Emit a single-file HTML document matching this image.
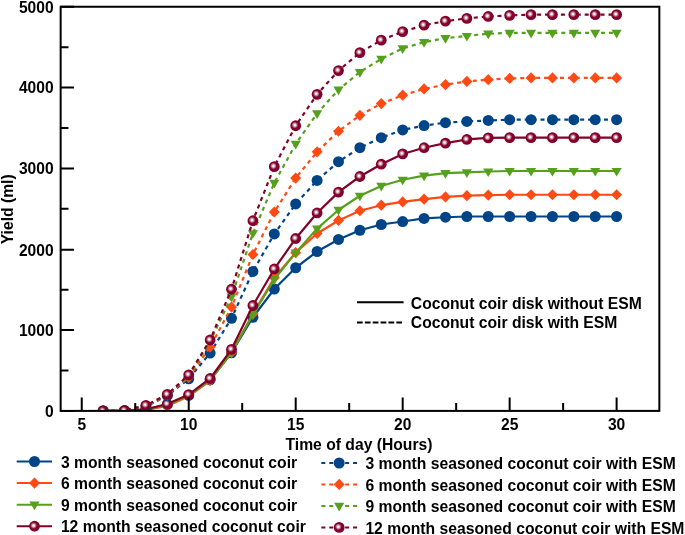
<!DOCTYPE html>
<html lang="en">
<head>
<meta charset="utf-8">
<title>Yield vs time of day</title>
<style>
html,body{margin:0;padding:0;background:#fff;}
body{width:685px;height:535px;overflow:hidden;}
svg{display:block;}
.tk{font-size:15.6px;}
text{font-family:"Liberation Sans",Arial,Helvetica,sans-serif;font-weight:bold;font-size:15.7px;fill:#000;}
</style>
</head>
<body>
<svg width="685" height="535" viewBox="0 0 685 535">
<defs>
<radialGradient id="sp" cx="0.42" cy="0.44" r="0.55">
<stop offset="0.1" stop-color="#ffffff"/>
<stop offset="0.56" stop-color="#82002a"/>
</radialGradient>
<clipPath id="plot"><rect x="60.65" y="6.75" width="598.70" height="404.15"/></clipPath>
</defs>
<rect width="685" height="535" fill="#fff"/>

<g clip-path="url(#plot)">
<path d="M103.14 410.90L124.54 410.90L145.94 409.69L167.33 404.60L188.72 395.38L210.12 379.78L231.51 352.78L252.91 317.30L274.31 289.01L295.70 267.75L317.10 251.50L338.49 239.46L359.88 230.24L381.28 224.51L402.68 221.52L424.07 218.44L445.46 217.23L466.86 216.50L488.25 216.50L509.65 216.50L531.05 216.50L552.44 216.50L573.84 216.50L595.23 216.50L616.62 216.50" fill="none" stroke="#004488" stroke-width="2.2" stroke-linejoin="round"/>
<g><circle cx="103.14" cy="410.90" r="5.5" fill="#004488"/><circle cx="124.54" cy="410.90" r="5.5" fill="#004488"/><circle cx="145.94" cy="409.69" r="5.5" fill="#004488"/><circle cx="167.33" cy="404.60" r="5.5" fill="#004488"/><circle cx="188.72" cy="395.38" r="5.5" fill="#004488"/><circle cx="210.12" cy="379.78" r="5.5" fill="#004488"/><circle cx="231.51" cy="352.78" r="5.5" fill="#004488"/><circle cx="252.91" cy="317.30" r="5.5" fill="#004488"/><circle cx="274.31" cy="289.01" r="5.5" fill="#004488"/><circle cx="295.70" cy="267.75" r="5.5" fill="#004488"/><circle cx="317.10" cy="251.50" r="5.5" fill="#004488"/><circle cx="338.49" cy="239.46" r="5.5" fill="#004488"/><circle cx="359.88" cy="230.24" r="5.5" fill="#004488"/><circle cx="381.28" cy="224.51" r="5.5" fill="#004488"/><circle cx="402.68" cy="221.52" r="5.5" fill="#004488"/><circle cx="424.07" cy="218.44" r="5.5" fill="#004488"/><circle cx="445.46" cy="217.23" r="5.5" fill="#004488"/><circle cx="466.86" cy="216.50" r="5.5" fill="#004488"/><circle cx="488.25" cy="216.50" r="5.5" fill="#004488"/><circle cx="509.65" cy="216.50" r="5.5" fill="#004488"/><circle cx="531.05" cy="216.50" r="5.5" fill="#004488"/><circle cx="552.44" cy="216.50" r="5.5" fill="#004488"/><circle cx="573.84" cy="216.50" r="5.5" fill="#004488"/><circle cx="595.23" cy="216.50" r="5.5" fill="#004488"/><circle cx="616.62" cy="216.50" r="5.5" fill="#004488"/></g>
<path d="M103.14 410.90L124.54 410.90L145.94 409.93L167.33 405.89L188.72 396.35L210.12 380.59L231.51 352.30L252.91 313.98L274.31 277.77L295.70 252.72L317.10 233.48L338.49 220.46L359.88 210.76L381.28 205.19L402.68 201.95L424.07 199.21L445.46 196.94L466.86 195.65L488.25 195.08L509.65 194.76L531.05 194.76L552.44 194.76L573.84 194.76L595.23 194.76L616.62 194.76" fill="none" stroke="#ff4a14" stroke-width="2.2" stroke-linejoin="round"/>
<g><path d="M103.14 405.30l5.5 5.6l-5.5 5.6l-5.5 -5.6z" fill="#ff4a14"/><path d="M124.54 405.30l5.5 5.6l-5.5 5.6l-5.5 -5.6z" fill="#ff4a14"/><path d="M145.94 404.33l5.5 5.6l-5.5 5.6l-5.5 -5.6z" fill="#ff4a14"/><path d="M167.33 400.29l5.5 5.6l-5.5 5.6l-5.5 -5.6z" fill="#ff4a14"/><path d="M188.72 390.75l5.5 5.6l-5.5 5.6l-5.5 -5.6z" fill="#ff4a14"/><path d="M210.12 374.99l5.5 5.6l-5.5 5.6l-5.5 -5.6z" fill="#ff4a14"/><path d="M231.51 346.70l5.5 5.6l-5.5 5.6l-5.5 -5.6z" fill="#ff4a14"/><path d="M252.91 308.38l5.5 5.6l-5.5 5.6l-5.5 -5.6z" fill="#ff4a14"/><path d="M274.31 272.17l5.5 5.6l-5.5 5.6l-5.5 -5.6z" fill="#ff4a14"/><path d="M295.70 247.12l5.5 5.6l-5.5 5.6l-5.5 -5.6z" fill="#ff4a14"/><path d="M317.10 227.88l5.5 5.6l-5.5 5.6l-5.5 -5.6z" fill="#ff4a14"/><path d="M338.49 214.86l5.5 5.6l-5.5 5.6l-5.5 -5.6z" fill="#ff4a14"/><path d="M359.88 205.16l5.5 5.6l-5.5 5.6l-5.5 -5.6z" fill="#ff4a14"/><path d="M381.28 199.59l5.5 5.6l-5.5 5.6l-5.5 -5.6z" fill="#ff4a14"/><path d="M402.68 196.35l5.5 5.6l-5.5 5.6l-5.5 -5.6z" fill="#ff4a14"/><path d="M424.07 193.61l5.5 5.6l-5.5 5.6l-5.5 -5.6z" fill="#ff4a14"/><path d="M445.46 191.34l5.5 5.6l-5.5 5.6l-5.5 -5.6z" fill="#ff4a14"/><path d="M466.86 190.05l5.5 5.6l-5.5 5.6l-5.5 -5.6z" fill="#ff4a14"/><path d="M488.25 189.48l5.5 5.6l-5.5 5.6l-5.5 -5.6z" fill="#ff4a14"/><path d="M509.65 189.16l5.5 5.6l-5.5 5.6l-5.5 -5.6z" fill="#ff4a14"/><path d="M531.05 189.16l5.5 5.6l-5.5 5.6l-5.5 -5.6z" fill="#ff4a14"/><path d="M552.44 189.16l5.5 5.6l-5.5 5.6l-5.5 -5.6z" fill="#ff4a14"/><path d="M573.84 189.16l5.5 5.6l-5.5 5.6l-5.5 -5.6z" fill="#ff4a14"/><path d="M595.23 189.16l5.5 5.6l-5.5 5.6l-5.5 -5.6z" fill="#ff4a14"/><path d="M616.62 189.16l5.5 5.6l-5.5 5.6l-5.5 -5.6z" fill="#ff4a14"/></g>
<path d="M103.14 410.90L124.54 410.90L145.94 409.69L167.33 404.84L188.72 395.54L210.12 379.78L231.51 352.78L252.91 314.55L274.31 279.31L295.70 252.72L317.10 228.63L338.49 209.96L359.88 195.73L381.28 185.95L402.68 179.73L424.07 175.68L445.46 173.18L466.86 172.29L488.25 171.48L509.65 171.00L531.05 171.00L552.44 171.00L573.84 171.00L595.23 171.00L616.62 171.00" fill="none" stroke="#55a01c" stroke-width="2.2" stroke-linejoin="round"/>
<g><path d="M98.05 407.80h10.2l-5.1 8.7z" fill="#55a01c"/><path d="M119.44 407.80h10.2l-5.1 8.7z" fill="#55a01c"/><path d="M140.84 406.59h10.2l-5.1 8.7z" fill="#55a01c"/><path d="M162.23 401.74h10.2l-5.1 8.7z" fill="#55a01c"/><path d="M183.62 392.44h10.2l-5.1 8.7z" fill="#55a01c"/><path d="M205.02 376.68h10.2l-5.1 8.7z" fill="#55a01c"/><path d="M226.41 349.68h10.2l-5.1 8.7z" fill="#55a01c"/><path d="M247.81 311.45h10.2l-5.1 8.7z" fill="#55a01c"/><path d="M269.20 276.21h10.2l-5.1 8.7z" fill="#55a01c"/><path d="M290.60 249.62h10.2l-5.1 8.7z" fill="#55a01c"/><path d="M312.00 225.53h10.2l-5.1 8.7z" fill="#55a01c"/><path d="M333.39 206.86h10.2l-5.1 8.7z" fill="#55a01c"/><path d="M354.78 192.63h10.2l-5.1 8.7z" fill="#55a01c"/><path d="M376.18 182.85h10.2l-5.1 8.7z" fill="#55a01c"/><path d="M397.57 176.63h10.2l-5.1 8.7z" fill="#55a01c"/><path d="M418.97 172.58h10.2l-5.1 8.7z" fill="#55a01c"/><path d="M440.36 170.08h10.2l-5.1 8.7z" fill="#55a01c"/><path d="M461.76 169.19h10.2l-5.1 8.7z" fill="#55a01c"/><path d="M483.15 168.38h10.2l-5.1 8.7z" fill="#55a01c"/><path d="M504.55 167.90h10.2l-5.1 8.7z" fill="#55a01c"/><path d="M525.95 167.90h10.2l-5.1 8.7z" fill="#55a01c"/><path d="M547.34 167.90h10.2l-5.1 8.7z" fill="#55a01c"/><path d="M568.74 167.90h10.2l-5.1 8.7z" fill="#55a01c"/><path d="M590.13 167.90h10.2l-5.1 8.7z" fill="#55a01c"/><path d="M611.52 167.90h10.2l-5.1 8.7z" fill="#55a01c"/></g>
<path d="M103.14 410.90L124.54 410.90L145.94 409.28L167.33 404.03L188.72 394.57L210.12 378.49L231.51 349.31L252.91 305.50L274.31 268.96L295.70 238.49L317.10 212.95L338.49 192.09L359.88 176.49L381.28 164.21L402.68 153.94L424.07 147.72L445.46 143.19L466.86 139.47L488.25 137.94L509.65 137.69L531.05 137.69L552.44 137.69L573.84 137.69L595.23 137.69L616.62 137.69" fill="none" stroke="#82002a" stroke-width="2.2" stroke-linejoin="round"/>
<g><circle cx="103.14" cy="410.90" r="5.4" fill="url(#sp)"/><circle cx="124.54" cy="410.90" r="5.4" fill="url(#sp)"/><circle cx="145.94" cy="409.28" r="5.4" fill="url(#sp)"/><circle cx="167.33" cy="404.03" r="5.4" fill="url(#sp)"/><circle cx="188.72" cy="394.57" r="5.4" fill="url(#sp)"/><circle cx="210.12" cy="378.49" r="5.4" fill="url(#sp)"/><circle cx="231.51" cy="349.31" r="5.4" fill="url(#sp)"/><circle cx="252.91" cy="305.50" r="5.4" fill="url(#sp)"/><circle cx="274.31" cy="268.96" r="5.4" fill="url(#sp)"/><circle cx="295.70" cy="238.49" r="5.4" fill="url(#sp)"/><circle cx="317.10" cy="212.95" r="5.4" fill="url(#sp)"/><circle cx="338.49" cy="192.09" r="5.4" fill="url(#sp)"/><circle cx="359.88" cy="176.49" r="5.4" fill="url(#sp)"/><circle cx="381.28" cy="164.21" r="5.4" fill="url(#sp)"/><circle cx="402.68" cy="153.94" r="5.4" fill="url(#sp)"/><circle cx="424.07" cy="147.72" r="5.4" fill="url(#sp)"/><circle cx="445.46" cy="143.19" r="5.4" fill="url(#sp)"/><circle cx="466.86" cy="139.47" r="5.4" fill="url(#sp)"/><circle cx="488.25" cy="137.94" r="5.4" fill="url(#sp)"/><circle cx="509.65" cy="137.69" r="5.4" fill="url(#sp)"/><circle cx="531.05" cy="137.69" r="5.4" fill="url(#sp)"/><circle cx="552.44" cy="137.69" r="5.4" fill="url(#sp)"/><circle cx="573.84" cy="137.69" r="5.4" fill="url(#sp)"/><circle cx="595.23" cy="137.69" r="5.4" fill="url(#sp)"/><circle cx="616.62" cy="137.69" r="5.4" fill="url(#sp)"/></g>
<path d="M103.14 410.90L124.54 410.74L145.94 406.45L167.33 395.70L188.72 378.81L210.12 353.03L231.51 318.27L252.91 271.47L274.31 233.96L295.70 203.98L317.10 180.45L338.49 161.70L359.88 147.72L381.28 137.69L402.68 129.93L424.07 125.57L445.46 122.66L466.86 121.45L488.25 120.48L509.65 119.67L531.05 119.67L552.44 119.67L573.84 119.67L595.23 119.67L616.62 119.67" fill="none" stroke="#004488" stroke-width="2.2" stroke-dasharray="4 3.93" stroke-linejoin="round"/>
<g><circle cx="103.14" cy="410.90" r="5.5" fill="#004488"/><circle cx="124.54" cy="410.74" r="5.5" fill="#004488"/><circle cx="145.94" cy="406.45" r="5.5" fill="#004488"/><circle cx="167.33" cy="395.70" r="5.5" fill="#004488"/><circle cx="188.72" cy="378.81" r="5.5" fill="#004488"/><circle cx="210.12" cy="353.03" r="5.5" fill="#004488"/><circle cx="231.51" cy="318.27" r="5.5" fill="#004488"/><circle cx="252.91" cy="271.47" r="5.5" fill="#004488"/><circle cx="274.31" cy="233.96" r="5.5" fill="#004488"/><circle cx="295.70" cy="203.98" r="5.5" fill="#004488"/><circle cx="317.10" cy="180.45" r="5.5" fill="#004488"/><circle cx="338.49" cy="161.70" r="5.5" fill="#004488"/><circle cx="359.88" cy="147.72" r="5.5" fill="#004488"/><circle cx="381.28" cy="137.69" r="5.5" fill="#004488"/><circle cx="402.68" cy="129.93" r="5.5" fill="#004488"/><circle cx="424.07" cy="125.57" r="5.5" fill="#004488"/><circle cx="445.46" cy="122.66" r="5.5" fill="#004488"/><circle cx="466.86" cy="121.45" r="5.5" fill="#004488"/><circle cx="488.25" cy="120.48" r="5.5" fill="#004488"/><circle cx="509.65" cy="119.67" r="5.5" fill="#004488"/><circle cx="531.05" cy="119.67" r="5.5" fill="#004488"/><circle cx="552.44" cy="119.67" r="5.5" fill="#004488"/><circle cx="573.84" cy="119.67" r="5.5" fill="#004488"/><circle cx="595.23" cy="119.67" r="5.5" fill="#004488"/><circle cx="616.62" cy="119.67" r="5.5" fill="#004488"/></g>
<path d="M103.14 410.90L124.54 410.66L145.94 406.05L167.33 395.14L188.72 377.36L210.12 347.04L231.51 307.03L252.91 254.49L274.31 211.98L295.70 178.11L317.10 151.84L338.49 131.23L359.88 115.30L381.28 103.58L402.68 95.18L424.07 88.95L445.46 84.67L466.86 81.44L488.25 79.66L509.65 78.45L531.05 77.88L552.44 77.88L573.84 77.88L595.23 77.88L616.62 77.88" fill="none" stroke="#ff4a14" stroke-width="2.2" stroke-dasharray="4 3.93" stroke-linejoin="round"/>
<g><path d="M103.14 405.30l5.5 5.6l-5.5 5.6l-5.5 -5.6z" fill="#ff4a14"/><path d="M124.54 405.06l5.5 5.6l-5.5 5.6l-5.5 -5.6z" fill="#ff4a14"/><path d="M145.94 400.45l5.5 5.6l-5.5 5.6l-5.5 -5.6z" fill="#ff4a14"/><path d="M167.33 389.54l5.5 5.6l-5.5 5.6l-5.5 -5.6z" fill="#ff4a14"/><path d="M188.72 371.76l5.5 5.6l-5.5 5.6l-5.5 -5.6z" fill="#ff4a14"/><path d="M210.12 341.44l5.5 5.6l-5.5 5.6l-5.5 -5.6z" fill="#ff4a14"/><path d="M231.51 301.43l5.5 5.6l-5.5 5.6l-5.5 -5.6z" fill="#ff4a14"/><path d="M252.91 248.89l5.5 5.6l-5.5 5.6l-5.5 -5.6z" fill="#ff4a14"/><path d="M274.31 206.38l5.5 5.6l-5.5 5.6l-5.5 -5.6z" fill="#ff4a14"/><path d="M295.70 172.51l5.5 5.6l-5.5 5.6l-5.5 -5.6z" fill="#ff4a14"/><path d="M317.10 146.24l5.5 5.6l-5.5 5.6l-5.5 -5.6z" fill="#ff4a14"/><path d="M338.49 125.63l5.5 5.6l-5.5 5.6l-5.5 -5.6z" fill="#ff4a14"/><path d="M359.88 109.70l5.5 5.6l-5.5 5.6l-5.5 -5.6z" fill="#ff4a14"/><path d="M381.28 97.98l5.5 5.6l-5.5 5.6l-5.5 -5.6z" fill="#ff4a14"/><path d="M402.68 89.58l5.5 5.6l-5.5 5.6l-5.5 -5.6z" fill="#ff4a14"/><path d="M424.07 83.35l5.5 5.6l-5.5 5.6l-5.5 -5.6z" fill="#ff4a14"/><path d="M445.46 79.07l5.5 5.6l-5.5 5.6l-5.5 -5.6z" fill="#ff4a14"/><path d="M466.86 75.84l5.5 5.6l-5.5 5.6l-5.5 -5.6z" fill="#ff4a14"/><path d="M488.25 74.06l5.5 5.6l-5.5 5.6l-5.5 -5.6z" fill="#ff4a14"/><path d="M509.65 72.85l5.5 5.6l-5.5 5.6l-5.5 -5.6z" fill="#ff4a14"/><path d="M531.05 72.28l5.5 5.6l-5.5 5.6l-5.5 -5.6z" fill="#ff4a14"/><path d="M552.44 72.28l5.5 5.6l-5.5 5.6l-5.5 -5.6z" fill="#ff4a14"/><path d="M573.84 72.28l5.5 5.6l-5.5 5.6l-5.5 -5.6z" fill="#ff4a14"/><path d="M595.23 72.28l5.5 5.6l-5.5 5.6l-5.5 -5.6z" fill="#ff4a14"/><path d="M616.62 72.28l5.5 5.6l-5.5 5.6l-5.5 -5.6z" fill="#ff4a14"/></g>
<path d="M103.14 410.90L124.54 410.50L145.94 405.65L167.33 394.73L188.72 375.98L210.12 341.55L231.51 296.53L252.91 233.24L274.31 182.96L295.70 143.92L317.10 113.45L338.49 89.68L359.88 72.06L381.28 58.89L402.68 48.38L424.07 42.15L445.46 38.19L466.86 36.01L488.25 33.67L509.65 32.94L531.05 32.78L552.44 32.78L573.84 32.78L595.23 32.78L616.62 32.78" fill="none" stroke="#55a01c" stroke-width="2.2" stroke-dasharray="4 3.93" stroke-linejoin="round"/>
<g><path d="M98.05 407.80h10.2l-5.1 8.7z" fill="#55a01c"/><path d="M119.44 407.40h10.2l-5.1 8.7z" fill="#55a01c"/><path d="M140.84 402.55h10.2l-5.1 8.7z" fill="#55a01c"/><path d="M162.23 391.63h10.2l-5.1 8.7z" fill="#55a01c"/><path d="M183.62 372.88h10.2l-5.1 8.7z" fill="#55a01c"/><path d="M205.02 338.45h10.2l-5.1 8.7z" fill="#55a01c"/><path d="M226.41 293.43h10.2l-5.1 8.7z" fill="#55a01c"/><path d="M247.81 230.14h10.2l-5.1 8.7z" fill="#55a01c"/><path d="M269.20 179.86h10.2l-5.1 8.7z" fill="#55a01c"/><path d="M290.60 140.82h10.2l-5.1 8.7z" fill="#55a01c"/><path d="M312.00 110.35h10.2l-5.1 8.7z" fill="#55a01c"/><path d="M333.39 86.58h10.2l-5.1 8.7z" fill="#55a01c"/><path d="M354.78 68.96h10.2l-5.1 8.7z" fill="#55a01c"/><path d="M376.18 55.79h10.2l-5.1 8.7z" fill="#55a01c"/><path d="M397.57 45.28h10.2l-5.1 8.7z" fill="#55a01c"/><path d="M418.97 39.05h10.2l-5.1 8.7z" fill="#55a01c"/><path d="M440.36 35.09h10.2l-5.1 8.7z" fill="#55a01c"/><path d="M461.76 32.91h10.2l-5.1 8.7z" fill="#55a01c"/><path d="M483.15 30.57h10.2l-5.1 8.7z" fill="#55a01c"/><path d="M504.55 29.84h10.2l-5.1 8.7z" fill="#55a01c"/><path d="M525.95 29.68h10.2l-5.1 8.7z" fill="#55a01c"/><path d="M547.34 29.68h10.2l-5.1 8.7z" fill="#55a01c"/><path d="M568.74 29.68h10.2l-5.1 8.7z" fill="#55a01c"/><path d="M590.13 29.68h10.2l-5.1 8.7z" fill="#55a01c"/><path d="M611.52 29.68h10.2l-5.1 8.7z" fill="#55a01c"/></g>
<path d="M103.14 410.90L124.54 410.50L145.94 405.32L167.33 394.41L188.72 374.85L210.12 340.01L231.51 289.25L252.91 220.71L274.31 166.63L295.70 125.73L317.10 94.37L338.49 70.61L359.88 52.66L381.28 40.13L402.68 31.65L424.07 25.18L445.46 21.14L466.86 18.39L488.25 16.45L509.65 15.40L531.05 14.67L552.44 14.67L573.84 14.67L595.23 14.67L616.62 14.67" fill="none" stroke="#82002a" stroke-width="2.2" stroke-dasharray="4 3.93" stroke-linejoin="round"/>
<g><circle cx="103.14" cy="410.90" r="5.4" fill="url(#sp)"/><circle cx="124.54" cy="410.50" r="5.4" fill="url(#sp)"/><circle cx="145.94" cy="405.32" r="5.4" fill="url(#sp)"/><circle cx="167.33" cy="394.41" r="5.4" fill="url(#sp)"/><circle cx="188.72" cy="374.85" r="5.4" fill="url(#sp)"/><circle cx="210.12" cy="340.01" r="5.4" fill="url(#sp)"/><circle cx="231.51" cy="289.25" r="5.4" fill="url(#sp)"/><circle cx="252.91" cy="220.71" r="5.4" fill="url(#sp)"/><circle cx="274.31" cy="166.63" r="5.4" fill="url(#sp)"/><circle cx="295.70" cy="125.73" r="5.4" fill="url(#sp)"/><circle cx="317.10" cy="94.37" r="5.4" fill="url(#sp)"/><circle cx="338.49" cy="70.61" r="5.4" fill="url(#sp)"/><circle cx="359.88" cy="52.66" r="5.4" fill="url(#sp)"/><circle cx="381.28" cy="40.13" r="5.4" fill="url(#sp)"/><circle cx="402.68" cy="31.65" r="5.4" fill="url(#sp)"/><circle cx="424.07" cy="25.18" r="5.4" fill="url(#sp)"/><circle cx="445.46" cy="21.14" r="5.4" fill="url(#sp)"/><circle cx="466.86" cy="18.39" r="5.4" fill="url(#sp)"/><circle cx="488.25" cy="16.45" r="5.4" fill="url(#sp)"/><circle cx="509.65" cy="15.40" r="5.4" fill="url(#sp)"/><circle cx="531.05" cy="14.67" r="5.4" fill="url(#sp)"/><circle cx="552.44" cy="14.67" r="5.4" fill="url(#sp)"/><circle cx="573.84" cy="14.67" r="5.4" fill="url(#sp)"/><circle cx="595.23" cy="14.67" r="5.4" fill="url(#sp)"/><circle cx="616.62" cy="14.67" r="5.4" fill="url(#sp)"/></g>
</g>
<g stroke="#000" stroke-width="2" fill="none" stroke-linecap="butt">
<rect x="60.65" y="6.75" width="598.70" height="404.15"/>
<path d="M60.65 410.90h13.4M60.65 370.48h7.8M60.65 330.07h13.4M60.65 289.65h7.8M60.65 249.74h13.4M60.65 208.82h7.8M60.65 168.56h13.4M60.65 128.00h7.8M60.65 87.58h13.4M60.65 47.16h7.8M60.65 6.75h13.4M81.75 410.90v-13.4M135.24 410.90v-7.8M188.72 410.90v-13.4M242.21 410.90v-7.8M295.70 410.90v-13.4M349.19 410.90v-7.8M402.68 410.90v-13.4M456.16 410.90v-7.8M509.65 410.90v-13.4M563.14 410.90v-7.8M616.62 410.90v-13.4"/>
</g>
<text x="53.60" y="416.70" text-anchor="end" class="tk">0</text>
<text x="53.60" y="335.87" text-anchor="end" class="tk">1000</text>
<text x="53.60" y="255.54" text-anchor="end" class="tk">2000</text>
<text x="53.60" y="174.36" text-anchor="end" class="tk">3000</text>
<text x="53.60" y="93.38" text-anchor="end" class="tk">4000</text>
<text x="53.60" y="12.55" text-anchor="end" class="tk">5000</text>
<text x="81.75" y="429.70" text-anchor="middle" class="tk">5</text>
<text x="188.72" y="429.70" text-anchor="middle" class="tk">10</text>
<text x="295.70" y="429.70" text-anchor="middle" class="tk">15</text>
<text x="402.68" y="429.70" text-anchor="middle" class="tk">20</text>
<text x="509.65" y="429.70" text-anchor="middle" class="tk">25</text>
<text x="616.62" y="429.70" text-anchor="middle" class="tk">30</text>
<text x="359.00" y="449.90" text-anchor="middle">Time of day (Hours)</text>
<text transform="translate(13.20 209.30) rotate(-90)" text-anchor="middle">Yield (ml)</text>
<path d="M357 302.35H403.6" stroke="#000" stroke-width="2"/>
<path d="M357 322.6H402.1" stroke="#000" stroke-width="2" stroke-dasharray="5.7 2.17"/>
<text x="410.80" y="308.75">Coconut coir disk without ESM</text>
<text x="410.80" y="328.20">Coconut coir disk with ESM</text>
<path d="M16.7 461.5H52" stroke="#004488" stroke-width="2"/>
<circle cx="34.50" cy="461.50" r="5.5" fill="#004488"/>
<text x="60.90" y="468.10">3 month seasoned coconut coir</text>
<path d="M321.35 463.0H357.1" stroke="#004488" stroke-width="2" stroke-dasharray="4 3.93"/>
<circle cx="339.20" cy="463.00" r="5.5" fill="#004488"/>
<text x="365.40" y="469.20">3 month seasoned coconut coir with ESM</text>
<path d="M16.7 483.1H52" stroke="#ff4a14" stroke-width="2"/>
<path d="M34.50 477.50l5.5 5.6l-5.5 5.6l-5.5 -5.6z" fill="#ff4a14"/>
<text x="60.90" y="489.40">6 month seasoned coconut coir</text>
<path d="M321.35 484.4H357.1" stroke="#ff4a14" stroke-width="2" stroke-dasharray="4 3.93"/>
<path d="M339.20 478.80l5.5 5.6l-5.5 5.6l-5.5 -5.6z" fill="#ff4a14"/>
<text x="365.40" y="490.60">6 month seasoned coconut coir with ESM</text>
<path d="M16.7 504.7H52" stroke="#55a01c" stroke-width="2"/>
<path d="M29.40 501.60h10.2l-5.1 8.7z" fill="#55a01c"/>
<text x="60.90" y="510.70">9 month seasoned coconut coir</text>
<path d="M321.35 505.9H357.1" stroke="#55a01c" stroke-width="2" stroke-dasharray="4 3.93"/>
<path d="M334.10 502.80h10.2l-5.1 8.7z" fill="#55a01c"/>
<text x="365.40" y="512.20">9 month seasoned coconut coir with ESM</text>
<path d="M16.7 526.2H52" stroke="#82002a" stroke-width="2"/>
<circle cx="34.50" cy="526.20" r="5.4" fill="url(#sp)"/>
<text x="60.90" y="532.10">12 month seasoned coconut coir</text>
<path d="M321.35 527.4H357.1" stroke="#82002a" stroke-width="2" stroke-dasharray="4 3.93"/>
<circle cx="339.20" cy="527.40" r="5.4" fill="url(#sp)"/>
<text x="365.40" y="533.70">12 month seasoned coconut coir with ESM</text>
</svg>
</body>
</html>
